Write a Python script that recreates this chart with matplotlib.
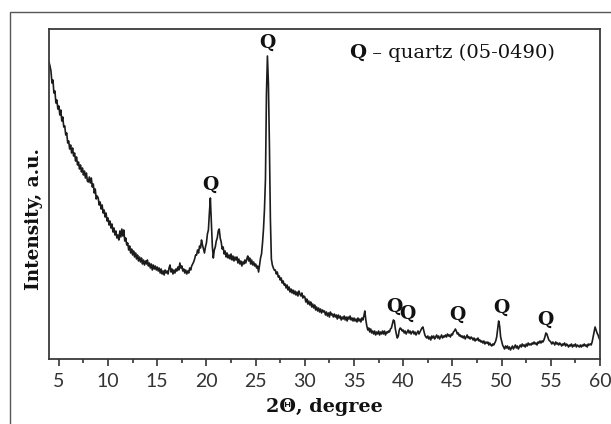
import numpy as np
import matplotlib
matplotlib.use("Agg")
import matplotlib.pyplot as plt
from matplotlib.patches import Rectangle
from matplotlib.ticker import MultipleLocator

# XRD scan: 2-theta from 4.0 to 60.0 deg in 0.1 deg steps
two_theta = np.round(np.arange(4.0, 60.05, 0.1), 1)

# Intensity (a.u.), one row per whole degree (x.0 ... x.9)
intensity = [
    297, 293, 288, 276, 279, 266, 268, 256, 259, 250,   # 4
    253, 244, 249, 238, 242, 232, 233, 224, 226, 216,   # 5
    218, 210, 214, 206, 211, 203, 206, 198, 202, 194,   # 6
    197, 190, 194, 187, 191, 184, 188, 181, 186, 178,   # 7
    177, 182, 176, 181, 172, 175, 166, 170, 160, 163,   # 8
    161, 154, 157, 150, 154, 146, 149, 142, 146, 138,   # 9
    141, 134, 138, 131, 135, 127, 131, 124, 128, 121,   # 10
    124, 119, 128, 122, 130, 123, 129, 118, 121, 114,   # 11
    116, 109, 113, 106, 110, 104, 108, 102, 106, 100,   # 12
    104, 98, 102, 97, 101, 95, 99, 94, 98, 95,          # 13
    99, 93, 96, 91, 95, 89, 94, 90, 93, 89,             # 14
    92, 88, 91, 86, 90, 85, 88, 84, 89, 86,             # 15
    88, 85, 91, 94, 87, 90, 85, 89, 86, 90,             # 16
    88, 92, 89, 96, 91, 93, 88, 90, 86, 89,             # 17
    85, 88, 86, 91, 89, 93, 95, 97, 100, 104,           # 18
    104, 109, 106, 113, 111, 119, 114, 110, 106, 112,   # 19
    116, 125, 129, 146, 161, 138, 113, 101, 109, 112,   # 20
    118, 121, 128, 130, 121, 117, 110, 112, 105, 108,   # 21
    102, 106, 101, 104, 100, 105, 99, 103, 98, 102,     # 22
    99, 102, 96, 100, 95, 98, 93, 97, 95, 99,           # 23
    96, 100, 103, 98, 101, 95, 99, 94, 97, 93,          # 24
    95, 91, 93, 87, 94, 101, 105, 116, 130, 150,        # 25
    180, 265, 303, 275, 215, 140, 100, 94, 91, 89,      # 26
    89, 85, 87, 82, 83, 79, 81, 76, 78, 74,             # 27
    75, 71, 74, 69, 72, 67, 70, 66, 69, 65,             # 28
    68, 64, 67, 63, 68, 65, 63, 66, 61, 63,             # 29
    62, 57, 60, 55, 58, 54, 57, 52, 55, 51,             # 30
    54, 49, 52, 48, 51, 47, 50, 46, 49, 47,             # 31
    48, 44, 47, 43, 46, 42, 47, 44, 45, 42,             # 32
    45, 42, 44, 40, 44, 41, 43, 39, 42, 40,             # 33
    43, 39, 42, 38, 42, 40, 43, 39, 41, 38,             # 34
    41, 38, 40, 37, 41, 38, 40, 37, 41, 39,             # 35
    43, 48, 39, 33, 29, 31, 27, 30, 26, 28,             # 36
    25, 28, 24, 27, 25, 28, 24, 27, 25, 28,             # 37
    25, 28, 24, 27, 26, 28, 27, 30, 31, 35,             # 38
    39, 38, 30, 25, 21, 23, 29, 31, 30, 28,             # 39
    29, 26, 28, 25, 27, 29, 26, 28, 25, 27,             # 40
    28, 25, 27, 24, 26, 28, 25, 27, 29, 31,             # 41
    32, 28, 24, 22, 21, 23, 20, 22, 19, 23,             # 42
    21, 23, 20, 22, 24, 21, 23, 20, 22, 24,             # 43
    21, 23, 22, 24, 22, 25, 23, 24, 22, 25,             # 44
    24, 27, 28, 30, 28, 25, 26, 23, 24, 22,             # 45
    23, 21, 23, 20, 22, 24, 21, 22, 20, 22,             # 46
    21, 19, 21, 18, 20, 19, 21, 18, 19, 17,             # 47
    18, 16, 18, 15, 17, 16, 17, 14, 16, 14,             # 48
    13, 15, 14, 16, 18, 22, 30, 38, 33, 22,             # 49
    18, 14, 12, 10, 13, 11, 13, 10, 12, 9,              # 50
    11, 13, 10, 12, 14, 11, 13, 10, 12, 14,             # 51
    12, 15, 13, 14, 12, 15, 13, 16, 14, 15,             # 52
    14, 16, 15, 17, 15, 16, 14, 17, 16, 18,             # 53
    16, 18, 17, 19, 22, 26, 25, 22, 19, 18,             # 54
    17, 15, 17, 16, 14, 17, 15, 16, 14, 16,             # 55
    15, 13, 15, 14, 16, 13, 15, 14, 12, 14,             # 56
    13, 15, 12, 14, 13, 15, 12, 14, 13, 12,             # 57
    14, 12, 14, 13, 15, 13, 14, 12, 15, 14,             # 58
    15, 14, 17, 22, 27, 32, 29, 26, 24, 21,             # 59
    19,                                                 # 60
]

# Quartz reflections marked with "Q"
peak_marks = ["Q", "Q", "Q", "Q", "Q", "Q", "Q"]
peak_mark_x = [20.43, 26.15, 39.06, 40.38, 45.5, 49.94, 54.4]
peak_mark_y = [174, 316, 52, 45, 44, 51, 39]

x_major = [5, 10, 15, 20, 25, 30, 35, 40, 45, 50, 55, 60]

serif = ["DejaVu Serif"]
sans = ["Lato", "DejaVu Sans"]

fig = plt.figure(figsize=(6.11, 4.24), dpi=100)
fig.patch.set_facecolor("white")

# outer frame around the figure panel
fig.patches.append(Rectangle((10 / 611, -0.2), 1.5, 1.2 - 12 / 424,
                             transform=fig.transFigure, fill=False,
                             edgecolor="#555555", linewidth=1.0))

ax = fig.add_axes([49 / 611, 1 - 359 / 424, 551 / 611, 330.5 / 424])
ax.plot(two_theta, intensity, color="#1c1c1c", linewidth=1.2)

ax.set_xlim(4, 60)
ax.set_ylim(0, 330.5)
ax.set_yticks([])
ax.set_xticks(x_major)
ax.xaxis.set_minor_locator(MultipleLocator(2.5))
ax.tick_params(axis="x", which="major", direction="out", length=5, width=1.2,
               color="#333333", pad=5, labelsize=14, labelcolor="#333333")
ax.tick_params(axis="x", which="minor", direction="out", length=3, width=1.2,
               color="#333333")
for lab in ax.get_xticklabels():
    lab.set_family(sans)

for side in ax.spines.values():
    side.set_color("#3a3a3a")
    side.set_linewidth(1.3)

for txt, px, py in zip(peak_marks, peak_mark_x, peak_mark_y):
    ax.text(px, py, txt, ha="center", va="center", fontsize=13.5,
            fontweight="bold", family=serif, color="#111111")

q_key = ax.text(0.545, 0.925, "Q", transform=ax.transAxes, ha="left",
                va="center", fontsize=14, fontweight="bold", family=serif,
                color="#111111")
ax.annotate(" \u2013 quartz (05-0490)", xy=(1, 0), xycoords=q_key,
            ha="left", va="bottom", fontsize=14, family=serif,
            color="#111111")

fig.text((49 + 600) / 2 / 611, 1 - 412.3 / 424, "2\u0398, degree",
         ha="center", va="baseline", fontsize=13.8, fontweight="bold",
         family=serif, color="#111111")
fig.text(34 / 611, 1 - 219 / 424, "Intensity, a.u.", rotation=90,
         ha="center", va="center", fontsize=13.3, fontweight="bold",
         family=serif, color="#111111")

fig.savefig("out.png", dpi=100)
